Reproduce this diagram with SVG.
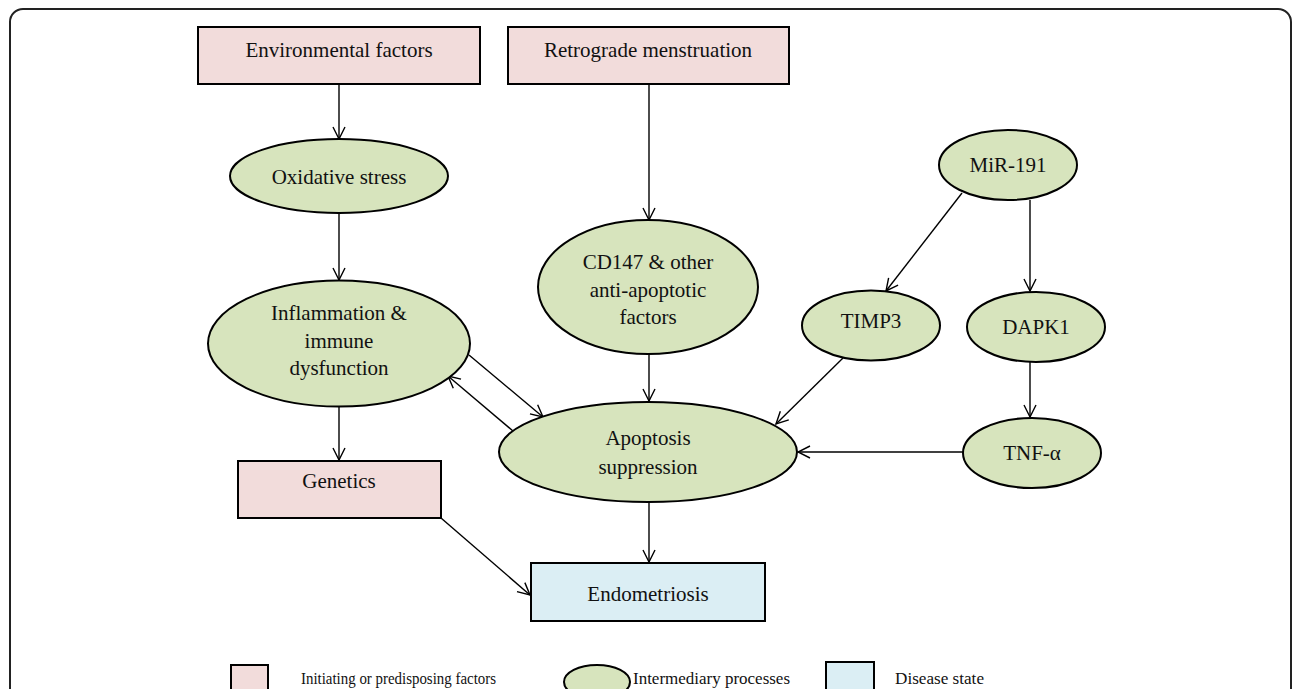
<svg xmlns="http://www.w3.org/2000/svg" width="1292" height="689" viewBox="0 0 1292 689">
<defs>
<style>
.box{stroke:#000;stroke-width:2}
.pink{fill:#f2dcdb}
.green{fill:#d7e4bd}
.blue{fill:#dbeef4}
.t{font-family:"Liberation Serif",serif;font-size:21px;fill:#111;text-anchor:middle}
.lg{font-family:"Liberation Serif",serif;font-size:17px;fill:#111}
.c{stroke:#000;stroke-width:1.4;fill:none;marker-end:url(#ah)}
</style>
<marker id="ah" viewBox="0 0 14 14" refX="13" refY="7" markerWidth="14" markerHeight="14" markerUnits="userSpaceOnUse" orient="auto">
<path d="M1,1 L13,7 L1,13" fill="none" stroke="#000" stroke-width="1.4"/>
</marker>
</defs>
<rect x="0" y="0" width="1292" height="689" fill="#fff"/>
<rect x="10" y="9" width="1281" height="720" rx="13" fill="none" stroke="#222" stroke-width="2"/>

<g id="connectors">
<line class="c" x1="339" y1="84" x2="339" y2="139"/>
<line class="c" x1="339" y1="213" x2="339" y2="280"/>
<line class="c" x1="339" y1="407" x2="339" y2="460"/>
<line class="c" x1="649" y1="84" x2="649" y2="220"/>
<line class="c" x1="649" y1="354" x2="649" y2="401"/>
<line class="c" x1="649" y1="502" x2="649" y2="562"/>
<line class="c" x1="441" y1="518" x2="530" y2="595"/>
<line class="c" x1="469" y1="355" x2="543" y2="417"/>
<line class="c" x1="513" y1="431" x2="448" y2="376"/>
<line class="c" x1="962" y1="193" x2="886" y2="291"/>
<line class="c" x1="1030" y1="200" x2="1030" y2="291"/>
<line class="c" x1="1030" y1="362" x2="1030" y2="417"/>
<line class="c" x1="843" y1="358" x2="776" y2="424"/>
<line class="c" x1="963" y1="452" x2="798" y2="452"/>
</g>

<g id="env">
<rect class="box pink" x="198" y="27" width="282" height="57"/>
<text class="t" x="339" y="57">Environmental factors</text>
</g>
<g id="retro">
<rect class="box pink" x="508" y="27" width="281" height="57"/>
<text class="t" x="648" y="57">Retrograde menstruation</text>
</g>
<g id="oxid">
<ellipse class="box green" cx="339" cy="176" rx="109" ry="37"/>
<text class="t" x="339" y="184">Oxidative stress</text>
</g>
<g id="inflam">
<ellipse class="box green" cx="339" cy="343.5" rx="131" ry="63"/>
<text class="t" x="339" y="320">Inflammation &amp;</text>
<text class="t" x="339" y="348">immune</text>
<text class="t" x="339" y="375">dysfunction</text>
</g>
<g id="genetics">
<rect class="box pink" x="238" y="461" width="203" height="57"/>
<text class="t" x="339" y="488">Genetics</text>
</g>
<g id="cd147">
<ellipse class="box green" cx="648" cy="287" rx="110" ry="67"/>
<text class="t" x="648" y="269">CD147 &amp; other</text>
<text class="t" x="648" y="297">anti-apoptotic</text>
<text class="t" x="648" y="324">factors</text>
</g>
<g id="apoptosis">
<ellipse class="box green" cx="648" cy="452" rx="149" ry="50"/>
<text class="t" x="648" y="445">Apoptosis</text>
<text class="t" x="648" y="474">suppression</text>
</g>
<g id="endo">
<rect class="box blue" x="531" y="563" width="234" height="58"/>
<text class="t" x="648" y="601">Endometriosis</text>
</g>
<g id="mir191">
<ellipse class="box green" cx="1008" cy="165" rx="69" ry="35"/>
<text class="t" x="1008" y="172">MiR-191</text>
</g>
<g id="timp3">
<ellipse class="box green" cx="871" cy="325.5" rx="69" ry="35"/>
<text class="t" x="871" y="328">TIMP3</text>
</g>
<g id="dapk1">
<ellipse class="box green" cx="1036" cy="327" rx="69" ry="35"/>
<text class="t" x="1036" y="334">DAPK1</text>
</g>
<g id="tnf">
<ellipse class="box green" cx="1032" cy="453" rx="69" ry="35"/>
<text class="t" x="1032" y="460">TNF-α</text>
</g>

<g id="legend">
<rect class="box pink" x="231" y="665" width="37" height="40"/>
<text class="lg" x="301" y="684" textLength="195" lengthAdjust="spacingAndGlyphs">Initiating or predisposing factors</text>
<ellipse class="box green" cx="597" cy="682" rx="33" ry="17"/>
<text class="lg" x="633" y="684" textLength="157" lengthAdjust="spacingAndGlyphs">Intermediary processes</text>
<rect class="box blue" x="826" y="662" width="48" height="40"/>
<text class="lg" x="895" y="684" textLength="89" lengthAdjust="spacingAndGlyphs">Disease state</text>
</g>
</svg>
